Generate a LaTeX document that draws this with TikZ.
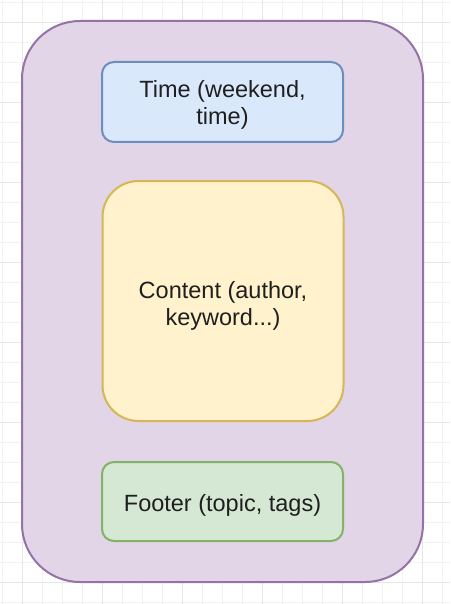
\documentclass[tikz,border=0pt]{standalone}
\usepackage{fontspec}
\setmainfont{Liberation Sans}
\definecolor{gridminor}{HTML}{F2F2F2}
\definecolor{gridmajor}{HTML}{E6E6E6}
\definecolor{purplefill}{HTML}{E1D5E7}
\definecolor{purpleline}{HTML}{9673A6}
\definecolor{bluefill}{HTML}{DAE8FC}
\definecolor{blueline}{HTML}{6C8EBF}
\definecolor{yellowfill}{HTML}{FFF2CC}
\definecolor{yellowline}{HTML}{D6B656}
\definecolor{greenfill}{HTML}{D5E8D4}
\definecolor{greenline}{HTML}{82B366}
\begin{document}
\begin{tikzpicture}[x=1pt,y=-1pt,
  box/.style={rectangle, line width=2pt, inner sep=0pt},
  lbl/.style={inner sep=0pt, align=center,
    font=\fontsize{23.5}{27}\selectfont, text=black!88},
]
\useasboundingbox (0,0) rectangle (450,604);
\fill[white] (0,0) rectangle (450,604);
% grid
\foreach \k in {0,...,22} {
  \draw[gridminor, line width=0.8pt] (2.7+20*\k,0) -- (2.7+20*\k,604);
}
\foreach \k in {0,...,30} {
  \draw[gridminor, line width=0.8pt] (0,2.7+20*\k) -- (450,2.7+20*\k);
}
\foreach \k in {0,...,5} {
  \draw[gridmajor, line width=0.8pt] (22.7+80*\k,0) -- (22.7+80*\k,604);
}
\foreach \k in {0,...,7} {
  \draw[gridmajor, line width=0.8pt] (0,22.7+80*\k) -- (450,22.7+80*\k);
}
% outer container
\node[box, draw=purpleline, fill=purplefill, rounded corners=58pt,
  minimum width=401pt, minimum height=561pt] (outer) at (222.5,301.5) {};
% inner boxes
\node[box, draw=blueline, fill=bluefill, rounded corners=12pt,
  minimum width=241pt, minimum height=80pt] (time) at (222.5,102) {};
\node[box, draw=yellowline, fill=yellowfill, rounded corners=36pt,
  minimum width=241pt, minimum height=240pt] (content) at (223,301) {};
\node[box, draw=greenline, fill=greenfill, rounded corners=12pt,
  minimum width=241pt, minimum height=79pt] (footer) at (222.5,501.5) {};
% labels
\node[lbl] (timetext) at ([yshift=-2.5pt]time.center) {Time (weekend,\\time)};
\node[lbl] (contenttext) at ([yshift=-5pt]content.center) {Content (author,\\keyword...)};
\node[lbl] (footertext) at ([yshift=-4pt]footer.center) {Footer (topic, tags)};
\end{tikzpicture}
\end{document}
